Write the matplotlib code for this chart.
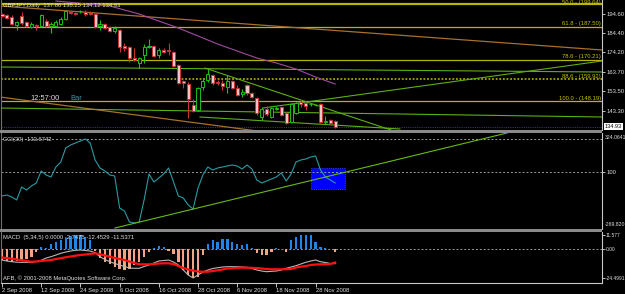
import matplotlib
matplotlib.use('Agg')
import matplotlib.pyplot as plt
from matplotlib.patches import Rectangle
import numpy as np

plt.rcParams['font.family'] = ['Liberation Sans', 'DejaVu Sans']

# ---------------- data ----------------
opens = [194.44, 193.92, 192.86, 188.63, 193.39, 190.21, 187.57, 188.63, 188.10, 190.74,
         188.10, 188.10, 189.15, 191.80, 195.50, 194.97, 196.03, 195.50, 194.97, 194.44,
         188.10, 189.15, 187.57, 185.45, 185.98, 177.51, 176.99, 171.17, 168.52, 172.76,
         176.99, 177.51, 172.76, 175.40, 175.40, 174.34, 167.47, 159.00, 157.41, 146.31,
         143.66, 155.83, 159.53, 162.18, 158.47, 157.94, 155.83, 159.00, 155.30, 152.12,
         156.89, 152.65, 150.01, 139.96, 144.19, 139.96, 144.19, 145.25, 142.07, 137.31,
         142.07, 147.89, 147.36, 146.83, 146.31, 146.83, 137.31, 138.37, 137.86]
highs = [194.97, 194.44, 193.92, 190.74, 195.50, 190.74, 190.21, 189.15, 194.44, 191.80,
         190.21, 191.27, 192.86, 196.56, 196.03, 195.50, 196.56, 196.56, 196.03, 194.97,
         191.27, 189.68, 188.10, 188.10, 186.51, 179.10, 177.51, 176.46, 171.70, 178.57,
         181.22, 178.04, 176.46, 176.46, 179.10, 174.87, 168.00, 159.53, 158.47, 149.48,
         155.83, 160.59, 165.35, 162.70, 159.53, 159.53, 162.18, 159.53, 156.89, 154.77,
         157.41, 153.18, 150.54, 145.25, 145.78, 145.25, 145.78, 145.78, 142.60, 147.36,
         147.89, 148.95, 147.89, 147.36, 146.83, 147.36, 140.49, 138.90, 138.25]
lows = [192.86, 191.80, 188.63, 185.98, 188.63, 187.57, 187.04, 185.98, 187.57, 187.57,
        184.39, 187.57, 188.63, 191.27, 194.44, 193.92, 194.97, 193.39, 193.92, 187.04,
        185.98, 186.51, 184.92, 184.39, 174.34, 174.87, 169.05, 169.58, 165.88, 168.52,
        176.46, 171.70, 171.17, 173.81, 172.76, 166.41, 157.41, 155.30, 139.43, 142.60,
        143.13, 154.24, 158.47, 156.89, 156.89, 154.24, 152.65, 154.77, 151.07, 150.54,
        151.59, 150.01, 141.02, 138.37, 140.49, 139.43, 143.66, 140.49, 136.50, 136.78,
        141.54, 145.25, 143.66, 145.78, 145.78, 136.90, 136.25, 136.25, 134.12]
closes = [193.39, 192.33, 189.15, 190.21, 189.68, 188.10, 189.15, 188.10, 193.92, 188.10,
          189.15, 190.21, 191.80, 196.03, 194.97, 194.44, 196.10, 194.44, 194.44, 187.57,
          189.15, 187.04, 185.45, 187.04, 176.99, 176.46, 171.17, 170.11, 171.17, 176.99,
          177.51, 172.23, 175.40, 174.34, 174.87, 166.94, 157.94, 157.94, 149.48, 143.13,
          155.30, 159.00, 162.70, 157.94, 157.94, 156.36, 159.00, 155.30, 151.59, 153.18,
          152.65, 150.54, 142.07, 144.19, 141.54, 144.72, 144.72, 141.02, 136.90, 146.83,
          147.36, 146.83, 145.78, 146.90, 146.38, 137.31, 137.84, 136.78, 134.93]

ma_bars = [11, 22, 28, 32, 36, 40, 44, 48, 52, 56, 60, 64, 68]
ma_vals = [201.32, 198.68, 194.44, 190.74, 187.04, 182.81, 178.57, 174.87, 171.17,
           168.52, 165.35, 161.12, 157.41]

fib_levels = [50.0, 61.8, 78.6, 88.6, 100.0]
fib_prices = [199.64, 187.50, 170.21, 159.92, 148.19]

# trend lines: (bar0, price0, bar1, price1)
orange_lines = [(-0.41, 198.68, 122.45, 175.40), (-0.41, 150.54, 53.7, 132.02)]
green_lines = [(-0.41, 166.41, 122.45, 163.76), (53.3, 144.72, 122.45, 169.58),
               (41.4, 165.88, 81.2, 131.49), (39.8, 143.13, 122.45, 139.96),
               (-0.41, 144.72, 40.4, 143.13), (40.4, 139.96, 81.2, 133.61)]

price_ticks = [143.30, 153.50, 163.70, 174.20, 184.40, 194.60]
last_price = 134.93

cci = [-57.9, -51.3, -64.5, -84.2, 1.3, -18.4, 7.9, 27.6, 106.6, 80.3,
       67.1, 132.9, 165.8, 257.9, 277.7, 290.8, 304.0, 317.1, 290.8, 179.0,
       126.3, 106.6, 80.3, 73.7, -136.9, -156.6, -229.0, -235.6, -229.0, -84.2,
       86.8, 34.2, 60.5, 86.8, 126.3, 34.2, -57.9, -71.1, -117.1, -143.5,
       -5.3, 80.3, 132.9, 113.2, 126.3, 132.9, 139.5, 146.1, 139.5, 119.7,
       146.1, 119.7, 47.4, 27.6, 40.8, 53.9, 67.1, 93.4, 40.8, 86.8,
       165.8, 179.0, 185.5, 198.7, 205.3, 113.2, 67.1, 47.4, 27.6]
cci_levels = [317.1, 100.0]
cci_trend = (23.06, -268.5, 103.06, 356.6)
cci_box = (63.1, -11.9, 70.0, 126.3)

macd_hist = [-9.6, -10.5, -10.9, -10.5, -9.6, -8.4, -6.7, -2.5, 1.5, 1.0,
             4.0, 6.0, 7.5, 9.0, 10.5, 11.3, 11.5, 10.0, 7.0, -2.0,
             -8.0, -11.0, -12.6, -15.0, -17.0, -17.6, -16.8, -14.0, -11.0, -7.0,
             -3.0, 1.0, 2.0, 1.5, -2.0, -4.0, -11.0, -18.0, -22.0, -24.5,
             -23.5, -5.5, 4.3, 7.0, 6.0, 8.0, 8.5, 6.0, 4.3, 3.5,
             4.3, 1.0, -3.4, -5.5, -5.5, -2.5, 0.5, -0.5, -2.7, 7.0,
             10.0, 11.5, 12.0, 12.0, 5.7, 1.5, 0.5, -0.3, -2.7475]
macd_main = [-9.40, -10.24, -10.82, -11.24, -11.33, -11.33, -11.33, -10.66, -9.65, -7.72,
             -6.63, -5.20, -3.78, -2.68, -1.85, -1.26, -1.01, -1.43, -1.85, -3.27,
             -6.63, -8.98, -10.82, -12.33, -13.59, -14.85, -16.11, -16.36, -16.36, -14.85,
             -13.59, -11.91, -10.24, -9.82, -9.40, -11.07, -13.59, -17.79, -21.98, -24.50,
             -21.98, -19.46, -17.79, -16.53, -15.86, -15.27, -15.02, -15.02, -15.02, -15.27,
             -15.52, -16.53, -17.79, -18.63, -19.21, -18.88, -18.63, -17.79, -16.36, -15.27,
             -14.18, -12.75, -11.33, -10.24, -9.40, -10.82, -11.49, -12.33, -12.45]
macd_signal = [-7.30, -7.72, -8.31, -8.98, -9.56, -10.24, -10.82, -10.66, -10.24, -9.82,
               -9.40, -8.56, -7.89, -7.13, -6.46, -5.79, -5.20, -4.78, -4.36, -3.78,
               -4.61, -5.62, -6.63, -7.72, -8.56, -9.40, -10.66, -11.91, -13.00, -13.00,
               -13.00, -12.75, -12.33, -12.17, -12.17, -12.75, -14.43, -16.11, -17.37, -18.21,
               -19.05, -19.21, -19.21, -18.63, -18.04, -17.37, -16.53, -16.36, -15.94, -15.86,
               -15.86, -15.94, -16.19, -16.53, -16.95, -17.20, -17.20, -17.20, -17.12, -16.95,
               -15.69, -15.02, -14.43, -13.59, -13.17, -13.00, -12.92, -12.67, -11.54]

date_bars = [0, 8, 16, 24, 32, 40, 48, 56, 64]
date_labels = ['2 Sep 2008', '12 Sep 2008', '24 Sep 2008', '6 Oct 2008', '16 Oct 2008',
               '28 Oct 2008', '6 Nov 2008', '18 Nov 2008', '28 Nov 2008']

# ---------------- layout ----------------
W, H = 625, 294
fig = plt.figure(figsize=(W / 100, H / 100), dpi=100, facecolor='black')


def rect(x0, y0, x1, y1):
    return [x0 / W, 1 - y1 / H, (x1 - x0) / W, (y1 - y0) / H]


def ftext(xp, yp, s, **kw):
    return fig.text(xp / W, 1 - yp / H, s, **kw)


TXT = '#e0e0e0'
FS = 4.2
XL = (-0.204, 122.45)

ax_main = fig.add_axes(rect(1, 0, 602, 130))
ax_cci = fig.add_axes(rect(1, 133, 602, 229))
ax_macd = fig.add_axes(rect(1, 232, 602, 283))

for ax in (ax_main, ax_cci, ax_macd):
    ax.set_facecolor('black')
    ax.set_xlim(*XL)
    for s in ('top', 'bottom'):
        ax.spines[s].set_visible(False)
    ax.spines['left'].set_color('#707070')
    ax.spines['left'].set_linewidth(0.8)
    ax.spines['right'].set_color('#c8c8c8')
    ax.spines['right'].set_linewidth(0.8)
    ax.yaxis.tick_right()
    ax.tick_params(axis='y', colors=TXT, labelsize=FS, length=2, width=0.6, pad=1.2)
    ax.tick_params(axis='x', bottom=False, labelbottom=False)

# separators
for y0 in (130, 229):
    fig.add_artist(Rectangle((0, 1 - (y0 + 3) / H), 602 / W, 3 / H,
                             transform=fig.transFigure, color='#8a8a8a', lw=0))

# ---------------- main panel ----------------
ax = ax_main
ax.set_ylim(133.08, 201.85)
o = np.array(opens); h = np.array(highs); l = np.array(lows); c = np.array(closes)
xb = np.arange(len(o))
up = c >= o
bull = '#18c018'
bear_edge = '#c83232'
ax.vlines(xb[up], l[up], h[up], color=bull, lw=0.8, zorder=4)
ax.vlines(xb[~up], l[~up], h[~up], color=bear_edge, lw=0.8, zorder=4)
bh = np.maximum(np.abs(c - o), 0.12)
blo = np.minimum(o, c)
ax.bar(xb[up], bh[up], bottom=blo[up], width=0.62, facecolor='black',
       edgecolor=bull, lw=0.7, zorder=5)
ax.bar(xb[~up], bh[~up], bottom=blo[~up], width=0.62, facecolor='#ecc6c6',
       edgecolor=bear_edge, lw=0.7, zorder=5)

# fibonacci levels
fib_col = '#b8b400'
for lev, pr in zip(fib_levels, fib_prices):
    label = f'{lev:.1f} - ({pr:.2f})'
    if lev == 88.6:
        ax.axhline(pr, color='#a8a400', lw=1.3, ls=(0, (1, 1)), zorder=2)
    else:
        ax.axhline(pr, color=fib_col, lw=1.6 if lev == 50.0 else 0.9, zorder=2)
    if lev == 50.0:
        ax.text(122.2, 1.0, label, color='#c8c400', fontsize=FS, ha='right', va='top',
                transform=ax.get_xaxis_transform(), zorder=6)
    else:
        ax.text(122.2, pr + 0.4, label, color='#c8c400', fontsize=FS,
                ha='right', va='bottom', zorder=6)

for x0, y0, x1, y1 in orange_lines:
    ax.plot([x0, x1], [y0, y1], color='#a8702c', lw=0.9, zorder=3)
for x0, y0, x1, y1 in green_lines:
    ax.plot([x0, x1], [y0, y1], color='#5cb014', lw=0.8, zorder=3)
ax.plot(ma_bars, ma_vals, color='#a24aa2', lw=0.8, zorder=3)
ax.axhline(last_price, color='#34346e', lw=0.8, ls=(0, (1, 1)), zorder=2)

ax.set_yticks(price_ticks)
ax.set_yticklabels([f'{v:.2f}' for v in price_ticks])
ax.text(1.005, last_price, f'{last_price:.2f}', transform=ax.get_yaxis_transform(),
        color='black', fontsize=4.0, va='center', ha='left', clip_on=False,
        bbox=dict(facecolor='white', edgecolor='none', pad=0.4))

ftext(3, 6, 'GBPJPY,Daily  137.86 138.25 134.12 134.93', color=TXT, fontsize=FS, va='center')
ftext(30, 99, '12:57:00', color=TXT, fontsize=5.4, va='center')
ftext(70, 99, 'Bar', color='#3aa0a0', fontsize=5.4, va='center')

# ---------------- CCI panel ----------------
ax = ax_cci
ax.set_ylim(-275.1, 356.6)
bx0, by0, bx1, by1 = cci_box
ax.add_patch(Rectangle((bx0, by0), bx1 - bx0, by1 - by0, facecolor='#0000ff',
                       edgecolor='#5050ff', lw=0.6, ls=':', zorder=1))
for lv in cci_levels:
    ax.axhline(lv, color='#9a9a9a', lw=0.7, ls=(0, (2, 2)), zorder=2)
ax.plot(np.arange(len(cci)), cci, color='#2a9aa4', lw=0.8, zorder=3)
x0, y0, x1, y1 = cci_trend
ax.plot([x0, x1], [y0, y1], color='#66bb14', lw=0.8, zorder=4)
ax.set_yticks([100])
ax.set_yticklabels(['100'])
tr = ax.get_yaxis_transform()
ax.text(1.004, 323.7, '324.0641', transform=tr, color=TXT, fontsize=3.7, va='center', clip_on=False)
ax.text(1.004, -248.7, '-269.820', transform=tr, color=TXT, fontsize=3.7, va='center', clip_on=False)
ftext(3, 140, 'CCI(30) -133.6742', color=TXT, fontsize=FS, va='center')

# ---------------- MACD panel ----------------
ax = ax_macd
ax.set_ylim(-28.69, 14.10)
hist = np.array(macd_hist)
xm = np.arange(len(hist))
ax.bar(xm[hist >= 0], hist[hist >= 0], width=0.45, color='#1e86ea', zorder=2)
ax.bar(xm[hist < 0], hist[hist < 0], width=0.45, color='#f4a486', zorder=2)
ax.axhline(0, color='#9a9a9a', lw=0.7, ls=(0, (2, 2)), zorder=1)
ax.plot(xm, macd_main, color='#b8b8b8', lw=0.8, zorder=3)
ax.plot(xm, macd_signal, color='#ff1010', lw=1.6, zorder=4)
macd_ticks = [11.577, 0.0, -24.4991]
ax.set_yticks(macd_ticks)
ax.set_yticklabels(['11.577', '0.00', '-24.4991'])
ax.tick_params(axis='y', pad=0.8)
for t in ax.get_yticklabels():
    t.set_fontsize(3.5)
ax.spines['bottom'].set_visible(True)
ax.spines['bottom'].set_color('#c8c8c8')
ax.spines['bottom'].set_linewidth(0.8)
ax.set_xticks(date_bars)
ax.set_xticklabels(date_labels)
ax.tick_params(axis='x', bottom=True, labelbottom=True, colors=TXT, labelsize=FS,
               length=3, width=0.6, pad=0.3)
for t in ax.get_xticklabels():
    t.set_ha('left')
ftext(3, 238, 'MACD  (5,34,5) 0.0000 -2.7475 -12.4529 -11.5371', color=TXT, fontsize=FS, va='center')
ftext(3, 278, 'AFB, © 2001-2008 MetaQuotes Software Corp.', color=TXT, fontsize=FS, va='center')

fig.savefig('out.png', dpi=100, facecolor='black')
